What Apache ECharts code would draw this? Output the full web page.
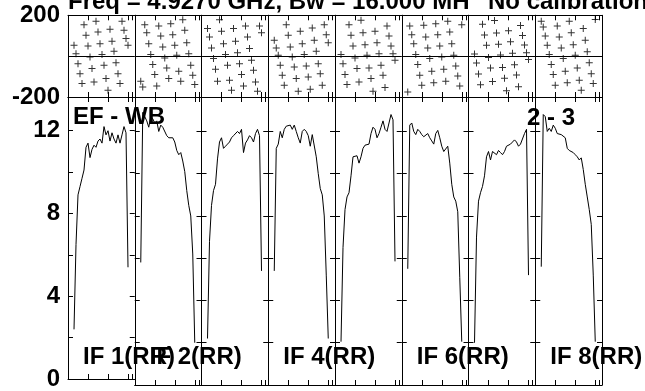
<!DOCTYPE html>
<html>
<head>
<meta charset="utf-8">
<script src="https://cdn.jsdelivr.net/npm/echarts@6/dist/echarts.min.js"></script>
<style>html,body{margin:0;padding:0;background:#fff}#c{width:645px;height:391px}</style>
</head>
<body>
<div id="c"></div>
<script>
// ---- data ----
const channels = [3,4,5,6,7,8,9,10,11,12,13,14,15,16,17,18,19,20,21,22,23,24,25,26,27,28,29,30];
const amp1 = [2.4,6.5,8.9,9.3,9.7,10.1,11.2,11.4,10.7,11.1,11.3,11.2,11.5,11.6,11.4,12.2,11.8,12.0,11.5,11.9,11.6,11.4,11.8,11.4,11.8,12.2,11.9,5.4];
const amp2 = [5.8,12.9,12.7,12.5,12.2,12.7,12.6,12.4,12.5,12.0,12.3,12.2,12.2,11.8,11.7,11.7,11.7,11.5,11.1,10.9,11.0,10.6,10.1,9.2,8.5,8.0,6.2,2.0];
const amp3 = [2.2,6.8,8.5,9.2,9.5,10.7,11.5,11.7,11.2,11.3,11.4,11.5,11.7,11.8,11.8,12.0,11.9,12.1,11.0,11.45,11.6,11.8,11.7,11.5,11.9,12.1,11.8,5.4];
const amp4 = [5.4,11.2,11.4,12.0,11.7,12.1,12.25,12.2,12.3,12.1,12.3,12.0,11.7,11.45,12.0,12.1,12.0,11.8,11.3,11.85,11.9,10.8,10.0,9.3,9.0,8.0,5.2,2.2];
const amp5 = [2.05,6.5,8.3,8.9,9.1,9.9,10.8,10.75,10.85,10.5,10.8,11.2,11.35,11.3,11.4,11.9,12.2,12.1,11.7,11.9,12.2,12.5,12.1,12.0,12.4,12.8,12.55,5.85];
const amp6 = [5.5,12.3,12.4,12.0,11.85,12.1,12.0,11.85,11.75,11.75,11.9,11.7,11.55,11.4,11.9,12.05,11.7,11.3,11.05,11.1,11.3,10.5,9.5,8.9,8.7,8.2,5.1,2.05];
const amp7 = [2.0,7.0,8.7,9.1,9.4,9.9,10.8,11.05,10.65,11.05,11.1,10.9,11.1,11.0,10.9,11.05,11.3,11.3,11.4,11.4,11.6,11.5,11.3,11.4,11.45,11.9,12.1,5.2];
const amp8 = [5.6,12.8,12.7,12.0,12.15,12.0,12.3,12.15,11.9,11.9,11.85,11.8,11.7,11.2,11.1,11.05,11.0,10.9,10.8,10.65,10.75,10.2,9.5,8.9,8.3,7.6,5.2,2.05];
const ph1 = [53,12,-37,-86,-134,154,102,50,-4,-61,-126,171,118,61,8,-45,-110,-167,132,73,24,-32,-86,-134,171,127,86,53];
const ph2 = [-123,-151,154,115,61,8,-41,-90,-146,148,99,45,-9,-58,-110,159,105,53,4,-74,-123,178,127,66,12,-45,-94,-139];
const ph3 = [135,94,40,-12,-64,-123,178,122,61,8,-45,-118,-167,135,73,17,-37,-90,-146,148,94,37,-20,-69,-126,-172,148,115];
const ph4 = [78,40,4,-45,-94,-143,154,102,45,-4,-53,-110,-172,122,61,8,-48,-102,-162,138,78,24,-37,-86,-143,154,105,66];
const ph5 = [8,-37,-90,-139,154,102,50,-9,-61,-126,176,115,56,4,-58,-110,-172,122,66,12,-45,-94,-154,148,99,50,12,-20];
const ph6 = [-175,148,105,61,8,-41,-94,-143,151,94,40,-12,-74,-130,159,105,50,-4,-64,-123,171,118,61,4,-48,-97,-146,154];
const ph7 = [10,-33,-88,-140,156,104,53,-6,-58,-124,174,113,58,6,-55,-108,-170,124,70,14,-42,-92,-150,150,101,55,17,-16];
const ph8 = [171,143,99,53,8,-41,-90,-143,148,94,40,-12,-74,-130,171,115,56,4,-58,-118,-167,135,78,21,-32,-86,-134,180];
const channelTicks = [10,20,30,32];
const ampTicks = [0,2,4,6,8,10,12];
const ampLabels = [0,4,8,12];
const ifLabels = ['IF 1(RR)','IF 2(RR)','IF 4(RR)','IF 6(RR)','IF 8(RR)'];
const ifLabelPanel = [0,1,3,5,7];
const titleLeft = 'Freq = 4.9270 GHz, Bw = 16.000 MH';
const titleRight = 'No calibration';
const baselineLabel = 'EF - WB';
const stokesLabel = '2 - 3';

// ---- layout ----
const ampSets = [amp1,amp2,amp3,amp4,amp5,amp6,amp7,amp8];
const phSets = [ph1,ph2,ph3,ph4,ph5,ph6,ph7,ph8];
const L0 = 68, PW = 66.75, XMAX = 33.375;
const FONT = '"Liberation Sans", Arial, sans-serif';
const FS = 24;
const rows = [
  {top: 15.3, height: 81.7, min: -200, max: 200, phase: true},
  {top: 97, height: 288, min: 0, max: 13.63, phase: false}
];
const plusPath = 'path://M3,0H4V3H7V4H4V7H3V4H0V3H3Z';
const axisLineStyle = {color: '#000', width: 1};
const grid = [], xAxis = [], yAxis = [], series = [];

rows.forEach((row) => {
  for (let k = 0; k < 8; k++) {
    const gi = grid.length;
    grid.push({left: L0 + PW * k, top: row.top, width: PW, height: row.height, containLabel: false});
    ['bottom','top'].forEach(pos => {
      xAxis.push({
        gridIndex: gi, type: 'value', min: 0, max: XMAX, position: pos,
        axisLine: {show: true, onZero: false, lineStyle: axisLineStyle},
        axisTick: {show: true, inside: true, length: 5, customValues: channelTicks, lineStyle: axisLineStyle},
        axisLabel: {show: false}, splitLine: {show: false}
      });
    });
    ['left','right'].forEach(pos => {
      const showLab = (pos === 'left' && k === 0);
      const lab = {
        show: showLab, color: '#000', fontSize: FS, fontWeight: 'bold', fontFamily: FONT, margin: 8
      };
      if (row.phase) {
        lab.formatter = v => (v === 0 ? '' : String(v));
        yAxis.push({
          gridIndex: gi, type: 'value', min: row.min, max: row.max, interval: 200, position: pos,
          axisLine: {show: true, onZero: false, lineStyle: axisLineStyle},
          axisTick: {show: false},
          axisLabel: lab,
          splitLine: {show: pos === 'left', lineStyle: {color: '#000', width: 1}}
        });
      } else {
        lab.customValues = ampLabels;
        lab.padding = [7, 0, 0, 0];
        yAxis.push({
          gridIndex: gi, type: 'value', min: row.min, max: row.max, position: pos,
          axisLine: {show: true, onZero: false, lineStyle: axisLineStyle},
          axisTick: {show: true, inside: true, length: 5, customValues: ampTicks, lineStyle: axisLineStyle},
          axisLabel: lab,
          splitLine: {show: false}
        });
      }
    });
    if (row.phase) {
      series.push({
        type: 'scatter', xAxisIndex: 2 * gi, yAxisIndex: 2 * gi,
        symbol: plusPath, symbolSize: 7, itemStyle: {color: '#000'},
        silent: true,
        data: channels.map((c, i) => [c, phSets[k][i]])
      });
    } else {
      series.push({
        type: 'line', xAxisIndex: 2 * gi, yAxisIndex: 2 * gi,
        showSymbol: false, symbol: 'none', lineStyle: {color: '#000', width: 1},
        silent: true,
        data: channels.map((c, i) => [c, ampSets[k][i]])
      });
    }
  }
});

const txt = (text, x, y) => ({
  type: 'text', x: x, y: y, silent: true,
  style: {text: text, fill: '#000', font: 'bold ' + FS + 'px ' + FONT, align: 'left', verticalAlign: 'middle', textAlign: 'left', textVerticalAlign: 'middle'}
});
const graphic = [
  txt(titleLeft, 68, 2),
  txt(titleRight, 488, 2),
  txt(baselineLabel, 73, 117),
  txt(stokesLabel, 527, 118)
];
ifLabels.forEach((t, i) => graphic.push(txt(t, L0 + PW * ifLabelPanel[i] + 15, 357)));

const chart = echarts.init(document.getElementById('c'), null, {renderer: 'canvas'});
chart.setOption({
  backgroundColor: '#fff',
  animation: false,
  grid, xAxis, yAxis, series, graphic
});
</script>
</body>
</html>
